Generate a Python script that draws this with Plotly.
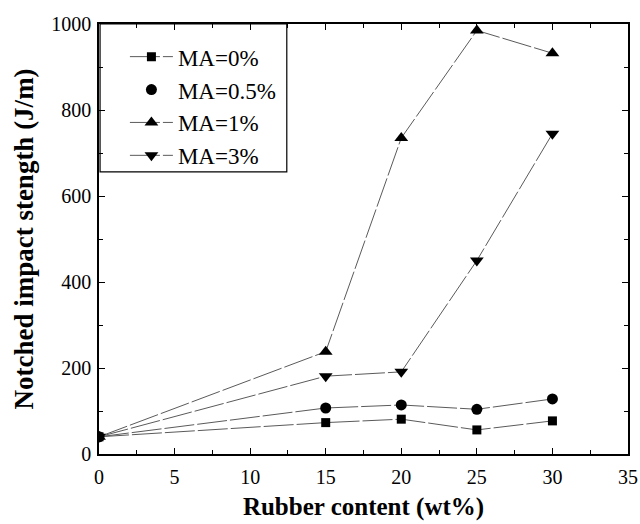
import plotly.graph_objects as go

rubber = [0, 15, 20, 25, 30]
ma0 = [40, 73, 81, 56, 77]
ma05 = [40, 107, 114, 104, 128]
ma1 = [40, 238, 735, 985, 932]
ma3 = [40, 181, 191, 450, 745]

x_ticks = [0, 5, 10, 15, 20, 25, 30, 35]
y_ticks = [0, 200, 400, 600, 800, 1000]

line_color = "#5a5a5a"
line_dash = "30px,3px"
font_family = "Liberation Serif, Times New Roman, serif"

fig = go.Figure()

fig.add_trace(go.Scatter(x=rubber, y=ma0, mode="lines+markers", name="MA=0%",
                         line=dict(color=line_color, width=1, dash=line_dash),
                         marker=dict(symbol="square", size=9, color="black")))
fig.add_trace(go.Scatter(x=rubber, y=ma05, mode="lines", showlegend=False,
                         line=dict(color=line_color, width=1, dash=line_dash)))
fig.add_trace(go.Scatter(x=rubber, y=ma05, mode="markers", name="MA=0.5%",
                         marker=dict(symbol="circle", size=11, color="black")))
fig.add_trace(go.Scatter(x=rubber, y=ma1, mode="lines+markers", name="MA=1%",
                         line=dict(color=line_color, width=1, dash=line_dash),
                         marker=dict(symbol="triangle-up", size=12, color="black")))
fig.add_trace(go.Scatter(x=rubber, y=ma3, mode="lines+markers", name="MA=3%",
                         line=dict(color=line_color, width=1, dash=line_dash),
                         marker=dict(symbol="triangle-down", size=12, color="black")))

axis_common = dict(showline=True, linecolor="black", linewidth=1.5, mirror="allticks",
                   ticks="inside", ticklen=6, tickcolor="black", showgrid=False,
                   zeroline=False, automargin=False, ticklabeloverflow="allow",
                   tickfont=dict(family=font_family, size=20, color="black"),
                   minor=dict(ticks="inside", ticklen=4, tickcolor="black", showgrid=False))

fig.update_xaxes(range=[0, 35.0001], tickvals=x_ticks, ticktext=[str(v) for v in x_ticks],
                 minor_dtick=2.5, ticklabelstandoff=4,
                 title=dict(text="<b>Rubber content (wt%)</b>", standoff=11,
                            font=dict(family=font_family, size=25, color="black")),
                 **axis_common)
fig.update_yaxes(range=[0, 1000.01], tickvals=y_ticks, ticktext=[str(v) for v in y_ticks],
                 minor_dtick=100, ticklabelstandoff=2,
                 title=dict(text="<b>Notched impact stength (J/m)</b>", standoff=10,
                            font=dict(family=font_family, size=27, color="black")),
                 **axis_common)

fig.add_shape(type="rect", xref="paper", yref="paper", x0=0.002, x1=0.355, y0=0.656, y1=1,
              line=dict(color="black", width=1.2))

fig.update_layout(
    width=640, height=524,
    margin=dict(l=99, r=12, t=24, b=70),
    plot_bgcolor="white", paper_bgcolor="white",
    legend=dict(x=0.049, y=0.974, xanchor="left", yanchor="top",
                bgcolor="rgba(0,0,0,0)", borderwidth=0, tracegroupgap=0,
                itemwidth=43,
                font=dict(family=font_family, size=23, color="black")),
)

fig.write_html("out.html", config={"displayModeBar": False},
               post_script="document.body.style.margin='0px';")
